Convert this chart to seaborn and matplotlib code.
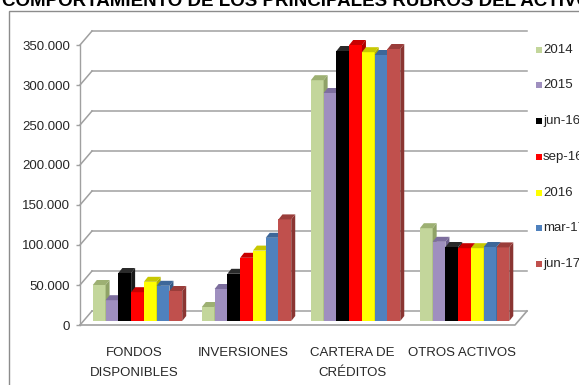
import matplotlib
matplotlib.use("Agg")
import matplotlib.pyplot as plt
import seaborn as sns
import pandas as pd
import numpy as np
from matplotlib.patches import Polygon, Rectangle
from matplotlib.lines import Line2D

# ---- data -------------------------------------------------------------
categories = ["FONDOS\nDISPONIBLES", "INVERSIONES", "CARTERA DE\nCRÉDITOS", "OTROS ACTIVOS"]
periods = ["2014", "2015", "jun-16", "sep-16", "2016", "mar-17", "jun-17"]

v_2014 = [45000, 17500, 301000, 116000]
v_2015 = [26000, 40000, 285000, 99000]
v_jun16 = [60000, 59000, 337500, 92500]
v_sep16 = [36000, 79000, 345000, 91000]
v_2016 = [49000, 88000, 336000, 91000]
v_mar17 = [44000, 104000, 332500, 92500]
v_jun17 = [37500, 127000, 340000, 92000]

y_ticks = [0, 50000, 100000, 150000, 200000, 250000, 300000, 350000]
title = "COMPORTAMIENTO DE LOS PRINCIPALES RUBROS DEL ACTIVO"

series = [v_2014, v_2015, v_jun16, v_sep16, v_2016, v_mar17, v_jun17]
df = pd.DataFrame(
    [(c, p, v) for p, vals in zip(periods, series) for c, v in zip(categories, vals)],
    columns=["rubro", "periodo", "valor"],
)

face = ["#C3D69B", "#9F8FBF", "#000000", "#FF0000", "#FFFF00", "#4F81BD", "#C0504D"]
cap = ["#9DB073", "#7D6E9E", "#2A2A2A", "#C80000", "#C8C800", "#3D6799", "#9A3D3A"]
side = ["#8FA267", "#6E608C", "#1A1A1A", "#B00000", "#B0B000", "#345A86", "#8A3532"]

FONT = ["Liberation Sans Narrow", "Liberation Sans", "DejaVu Sans"]
plt.rcParams["font.family"] = FONT
TXT = "#262626"
GRID = "#A0A0A0"
FS = 9.5

W, H = 579, 385
fig = plt.figure(figsize=(W / 100, H / 100), dpi=100)


def px_axes(left, top, width, height):
    return fig.add_axes([left / W, 1 - (top + height) / H, width / W, height / H])


XLIM = (-0.5, 3.49)
YLIM = (0, 350000)

# front plane: value axis, category labels, walls and floor
ax0 = px_axes(80, 45, 435, 280)
ax0.set_xlim(*XLIM)
ax0.set_ylim(*YLIM)
ax0.patch.set_visible(False)
for s in ["top", "right", "bottom"]:
    ax0.spines[s].set_visible(False)
ax0.spines["left"].set_color(GRID)
ax0.spines["left"].set_linewidth(1.0)
ax0.set_yticks(y_ticks)
ax0.set_yticklabels([f"{t:,}".replace(",", ".") for t in y_ticks])
ax0.tick_params(axis="y", colors=GRID, labelcolor=TXT, labelsize=FS,
                length=3, width=1.0, pad=4)
ax0.set_xticks(range(len(categories)))
ax0.set_xticklabels(categories, linespacing=1.85)
ax0.tick_params(axis="x", length=0, labelsize=FS, labelcolor=TXT, pad=16)

# depth of the chart box, in pixels
DX, DY = 12, 14
to_disp = ax0.transData.transform
to_data = ax0.transData.inverted().transform


def back(pt):
    d = to_disp(pt)
    return to_data((d[0] + DX, d[1] + DY))


for t in y_ticks:
    b0 = back((XLIM[0], t))
    b1 = back((XLIM[1], t))
    ax0.add_line(Line2D([XLIM[0], b0[0]], [t, b0[1]], color=GRID, lw=1.1, clip_on=False))
    ax0.add_line(Line2D([b0[0], b1[0]], [b0[1], b1[1]], color=GRID, lw=1.1, clip_on=False))

# floor front edge and right edge
b_r = back((XLIM[1], 0))
ax0.add_line(Line2D([XLIM[0], XLIM[1], b_r[0]], [0, 0, b_r[1]], color=GRID, lw=1.2, clip_on=False))

# bars
ax = px_axes(83, 41, 435, 280)
sns.barplot(data=df, x="rubro", y="valor", hue="periodo", order=categories,
            hue_order=periods, palette=face, saturation=1, width=0.82,
            linewidth=0, legend=False, errorbar=None, ax=ax)
ax.set_xlim(*XLIM)
ax.set_ylim(*YLIM)
ax.set_axis_off()

bd = ax.transData.transform
bi = ax.transData.inverted().transform
CX, CY = 4, 5
for k, cont in enumerate(ax.containers):
    for bar in cont:
        z = 2 + 0.1 * k
        bar.set_zorder(z)
        x0, w, h = bar.get_x(), bar.get_width(), bar.get_height()
        tl, tr, br = bd((x0, h)), bd((x0 + w, h)), bd((x0 + w, 0))
        off = np.array([CX, CY])
        top = bi(np.array([tl, tr, tr + off, tl + off]))
        sd = bi(np.array([br, tr, tr + off, br + off]))
        ax.add_patch(Polygon(sd, closed=True, fc=side[k], ec="none", zorder=z, clip_on=False))
        ax.add_patch(Polygon(top, closed=True, fc=cap[k], ec="none", zorder=z, clip_on=False))

# legend
for i, (p, c) in enumerate(zip(periods, face)):
    yc = 49.7 + i * 35.7
    fig.patches.append(Rectangle((536 / W, 1 - (yc + 3) / H), 6 / W, 6 / H,
                                 transform=fig.transFigure, fc=c, ec="none"))
    fig.text(543 / W, 1 - yc / H, p, ha="left", va="center", fontsize=FS, color=TXT)

# chart frame
fig.patches.append(Rectangle((8.5 / W, 0 - 0.1), 1.2, 1 - 10.5 / H + 0.1,
                             transform=fig.transFigure, fc="none", ec="#8C8C8C", lw=1.0))

# title (top of the page)
fig.text(2 / W, 1 - 6 / H, title, ha="left", va="baseline", fontsize=13.5,
         fontweight="bold", color="#000000", family=["Liberation Sans", "DejaVu Sans"])

fig.savefig("out.png", dpi=100)
